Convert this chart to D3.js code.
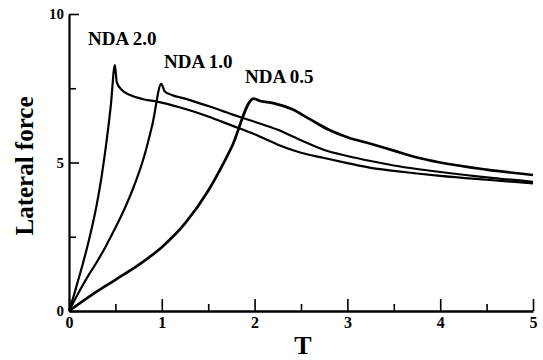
<!DOCTYPE html>
<html>
<head>
<meta charset="utf-8">
<script src="https://cdn.jsdelivr.net/npm/d3@7"></script>
<style>
  html, body { margin: 0; padding: 0; background: #fff; }
  svg { display: block; }
  text { font-family: "Liberation Serif", "Times New Roman", serif; font-weight: bold; fill: #000; }
</style>
</head>
<body>
<svg id="chart" width="543" height="360"></svg>
<script>
// ---- data ----
const xMajorTicks = [0, 1, 2, 3, 4, 5];
const xMinorTicks = [0.5, 1.5, 2.5, 3.5, 4.5];
const yMajorTicks = [0, 5, 10];
const yMinorTicks = [2.5, 7.5];
const seriesNames = ["NDA 2.0", "NDA 1.0", "NDA 0.5"];

// [T, lateral force]
const nda20 = [
  [0, 0], [0.05, 0.5], [0.1, 1.05], [0.15, 1.6], [0.2, 2.2], [0.25, 2.85], [0.3, 3.6],
  [0.35, 4.5], [0.4, 5.6], [0.45, 6.9], [0.495, 8.28], [0.515, 7.7], [0.57, 7.44],
  [0.66, 7.27], [0.8, 7.13], [0.95, 7.05], [1.2, 6.85], [1.5, 6.55], [1.75, 6.25],
  [2.0, 5.95], [2.25, 5.6], [2.5, 5.33], [2.75, 5.15], [3.0, 4.98], [3.25, 4.82],
  [3.5, 4.72], [3.75, 4.63], [4.0, 4.55], [4.5, 4.42], [5.0, 4.3]
];
const nda10 = [
  [0, 0], [0.1, 0.6], [0.2, 1.15], [0.3, 1.65], [0.4, 2.2], [0.5, 2.8], [0.6, 3.45],
  [0.7, 4.2], [0.8, 5.1], [0.9, 6.3], [0.995, 7.65], [1.03, 7.4], [1.1, 7.28],
  [1.25, 7.15], [1.5, 6.9], [1.75, 6.63], [2.0, 6.37], [2.25, 6.1], [2.5, 5.75],
  [2.75, 5.42], [3.0, 5.22], [3.25, 5.05], [3.5, 4.9], [3.75, 4.78], [4.0, 4.68],
  [4.5, 4.5], [5.0, 4.35]
];
const nda05 = [
  [0, 0], [0.25, 0.55], [0.5, 1.05], [0.75, 1.55], [1.0, 2.15], [1.25, 2.95], [1.5, 4.05],
  [1.75, 5.5], [1.99, 7.15], [2.05, 7.08], [2.2, 7.0], [2.4, 6.8], [2.6, 6.45],
  [2.8, 6.1], [3.0, 5.85], [3.25, 5.63], [3.5, 5.4], [3.75, 5.17], [4.0, 5.0],
  [4.5, 4.76], [5.0, 4.58]
];
const seriesData = [nda20, nda10, nda05];

// ---- layout ----
const svg = d3.select("#chart");
const x = d3.scaleLinear().domain([0, 5]).range([69, 533]);
const y = d3.scaleLinear().domain([0, 10]).range([311, 14]);

// x axis (major ticks with labels, inward)
const gx = svg.append("g").attr("transform", `translate(0,${y(0)})`)
  .call(d3.axisBottom(x).tickValues(xMajorTicks).tickFormat(d3.format("d"))
    .tickSizeInner(-12).tickSizeOuter(0).tickPadding(6));
gx.select(".domain").attr("stroke", "#000").attr("stroke-width", 2.6);
gx.selectAll(".tick line").attr("stroke", "#000").attr("stroke-width", 1.6);
gx.selectAll(".tick text").attr("font-size", 16).attr("font-family", "Liberation Serif").attr("font-weight", "bold");

const gxm = svg.append("g").attr("transform", `translate(0,${y(0)})`)
  .call(d3.axisBottom(x).tickValues(xMinorTicks).tickFormat("")
    .tickSizeInner(-7).tickSizeOuter(0));
gxm.select(".domain").remove();
gxm.selectAll(".tick line").attr("stroke", "#000").attr("stroke-width", 1.6);

// y axis
const gy = svg.append("g").attr("transform", `translate(${x(0)},0)`)
  .call(d3.axisLeft(y).tickValues(yMajorTicks).tickFormat(d3.format("d"))
    .tickSizeInner(-10).tickSizeOuter(0).tickPadding(5));
gy.select(".domain").attr("stroke", "#000").attr("stroke-width", 2.2);
gy.selectAll(".tick line").attr("stroke", "#000").attr("stroke-width", 1.6);
gy.selectAll(".tick text").attr("font-size", 15).attr("font-family", "Liberation Serif").attr("font-weight", "bold");

const gym = svg.append("g").attr("transform", `translate(${x(0)},0)`)
  .call(d3.axisLeft(y).tickValues(yMinorTicks).tickFormat("")
    .tickSizeInner(-7).tickSizeOuter(0));
gym.select(".domain").remove();
gym.selectAll(".tick line").attr("stroke", "#000").attr("stroke-width", 1.6);

// axis titles
svg.append("text").attr("x", 303).attr("y", 354).attr("text-anchor", "middle")
  .attr("font-size", 26).text("T");
svg.append("text").attr("transform", "translate(33,166) rotate(-90)")
  .attr("text-anchor", "middle").attr("font-size", 25).text("Lateral force");

// curves
const line = d3.line().x(d => x(d[0])).y(d => y(d[1])).curve(d3.curveMonotoneX);
const widths = [2.2, 2.2, 2.7];
svg.selectAll("path.series").data(seriesData).join("path")
  .attr("class", "series")
  .attr("d", line)
  .attr("fill", "none")
  .attr("stroke", "#000")
  .attr("stroke-width", (d, i) => widths[i])
  .attr("stroke-linejoin", "round");

// series labels
const labelPos = [[88, 45], [164, 68], [245, 83]];
svg.selectAll("text.lbl").data(seriesNames).join("text")
  .attr("class", "lbl")
  .attr("x", (d, i) => labelPos[i][0])
  .attr("y", (d, i) => labelPos[i][1])
  .attr("font-size", 19)
  .text(d => d);
</script>
</body>
</html>
